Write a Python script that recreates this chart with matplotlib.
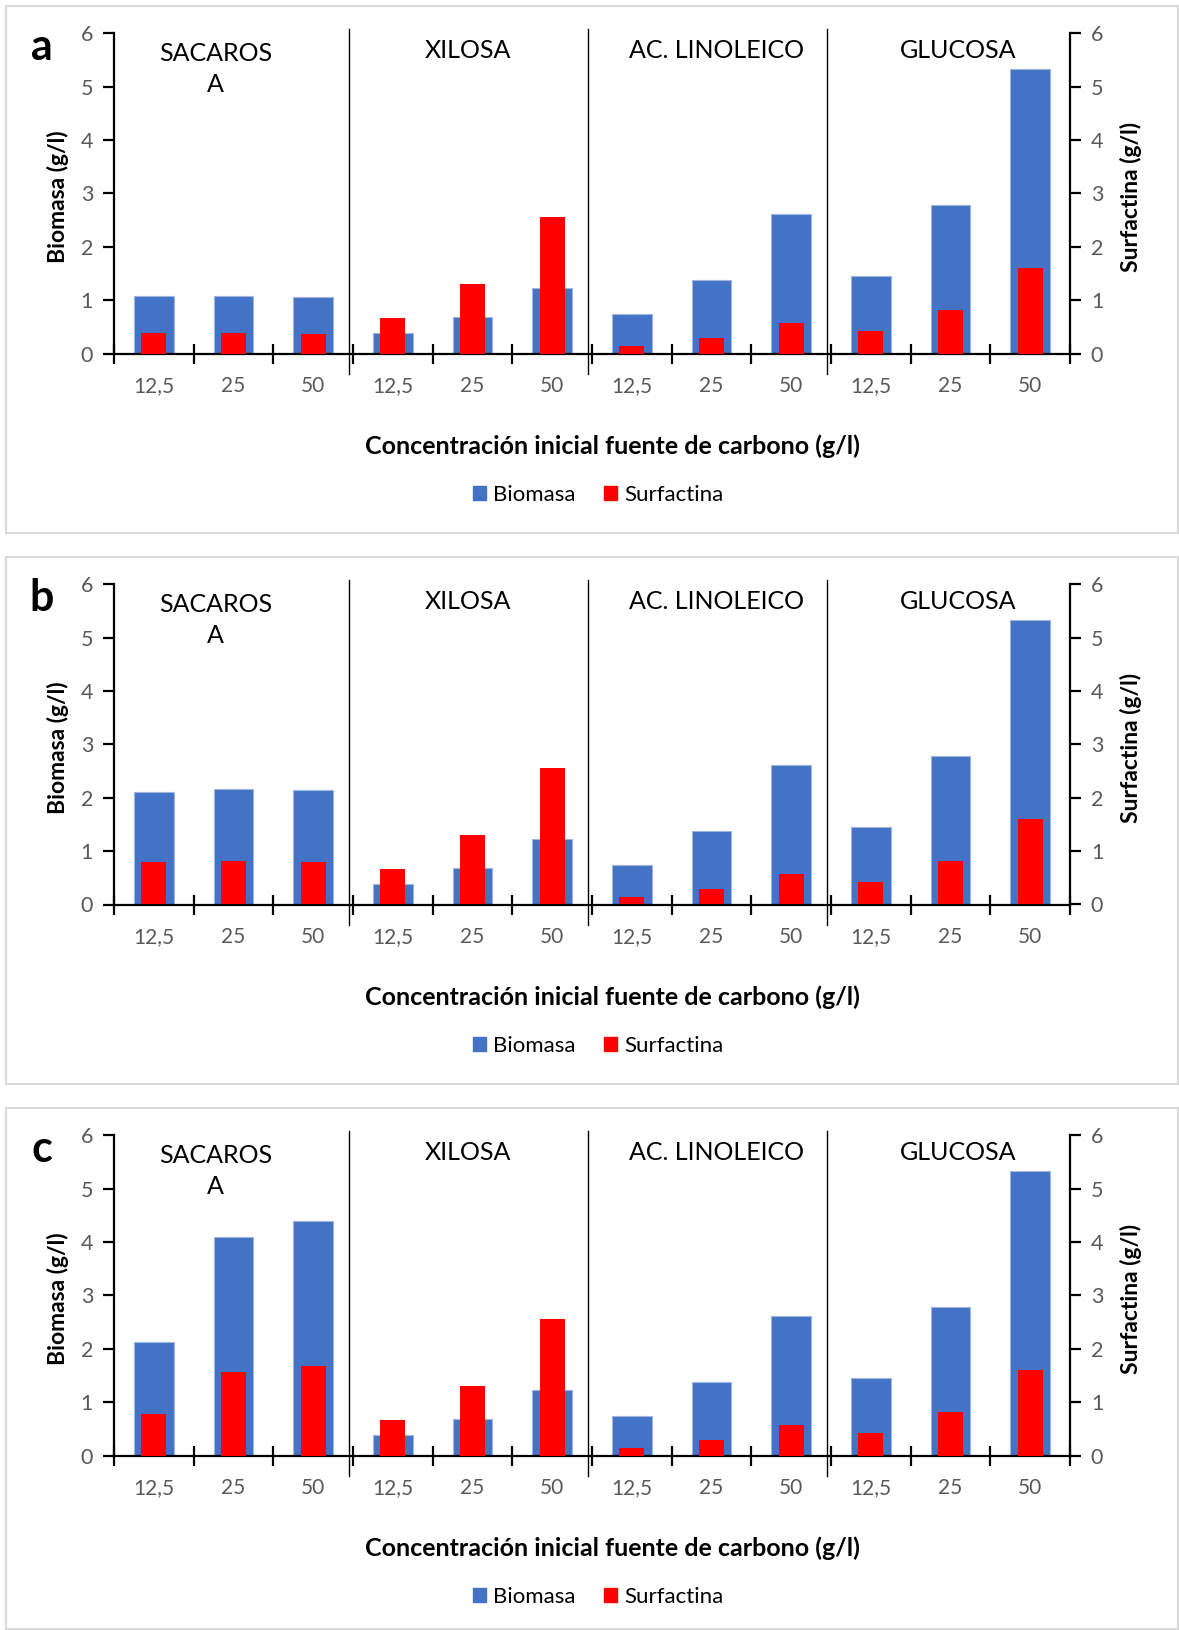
import numpy as np
import matplotlib
matplotlib.use("Agg")
import matplotlib.pyplot as plt
from matplotlib.patches import Rectangle, Patch

plt.rcParams['font.family'] = ['Lato', 'DejaVu Sans']

# data
conc_labels = ["12,5", "25", "50"] * 4
groups = ["SACAROS\nA", "XILOSA", "AC. LINOLEICO", "GLUCOSA"]
panel_tags = ["a", "b", "c"]

biomasa_a = [1.07, 1.07, 1.05, 0.39, 0.68, 1.22, 0.74, 1.38, 2.61, 1.45, 2.78, 5.34]
surfactina_a = [0.38, 0.38, 0.37, 0.66, 1.30, 2.55, 0.14, 0.29, 0.57, 0.42, 0.82, 1.61]

biomasa_b = [2.11, 2.17, 2.15, 0.39, 0.68, 1.22, 0.74, 1.38, 2.61, 1.45, 2.78, 5.34]
surfactina_b = [0.80, 0.82, 0.80, 0.66, 1.30, 2.55, 0.14, 0.29, 0.57, 0.42, 0.82, 1.61]

biomasa_c = [2.12, 4.10, 4.40, 0.39, 0.68, 1.22, 0.74, 1.38, 2.61, 1.45, 2.78, 5.34]
surfactina_c = [0.78, 1.57, 1.68, 0.66, 1.30, 2.55, 0.14, 0.29, 0.57, 0.42, 0.82, 1.61]

biomasa = [biomasa_a, biomasa_b, biomasa_c]
surfactina = [surfactina_a, surfactina_b, surfactina_c]

BLUE = "#4472C4"
RED = "#FF0000"
GRAY = "#595959"

W, H = 1179, 1630
fig = plt.figure(figsize=(W / 100, H / 100), dpi=100)

offsets = [0, 551, 1102]   # vertical shift of each panel in px
group_x = [0.1065, 0.3707, 0.630, 0.8826]

x = np.arange(len(conc_labels))

for p in range(3):
    off = offsets[p]
    # panel frame
    top = 6 + off
    bot = min(533 + off, H - 1)
    fig.add_artist(Rectangle((6 / W, 1 - bot / H), (W - 7) / W, (bot - top) / H,
                             transform=fig.transFigure, fill=False,
                             edgecolor="#D9D9D9", lw=1.5))

    ax_top = 33.3 + off
    ax_bot = 353.5 + off
    ax = fig.add_axes([114 / W, 1 - ax_bot / H, (1070 - 114) / W, (ax_bot - ax_top) / H])
    ax.set_facecolor("none")
    ax.bar(x, biomasa[p], width=0.5, color=BLUE, edgecolor="#9DB5E0", linewidth=0.8, zorder=2)
    ax.set_xlim(-0.5, 11.5)
    ax.set_ylim(0, 6)
    ax.set_yticks(range(7))

    ax2 = ax.twinx()
    ax2.bar(x, surfactina[p], width=0.31, color=RED, zorder=3)
    ax2.set_ylim(0, 6)
    ax2.set_yticks(range(7))

    for a in (ax, ax2):
        a.spines["top"].set_visible(False)
        for s in a.spines.values():
            s.set_linewidth(1.6)
            s.set_color("black")
        a.tick_params(axis="y", direction="out", length=8, width=1.6,
                      labelsize=15.5, labelcolor=GRAY, pad=7)
    ax.spines["right"].set_visible(False)
    ax2.spines["left"].set_visible(False)
    ax2.spines["bottom"].set_visible(False)

    ax.set_xticks(x)
    ax.set_xticklabels(conc_labels)
    ax.set_xticks(np.arange(-0.5, 12, 1), minor=True)
    ax.tick_params(axis="x", which="major", length=0, pad=16,
                   labelsize=15, labelcolor=GRAY)
    ax.tick_params(axis="x", which="minor", direction="inout", length=15, width=1.6)

    # separators between carbon sources
    for b in (2.5, 5.5, 8.5):
        ax.plot([b - 0.05, b - 0.05], [-0.38, 6.08], color="black", lw=1,
                clip_on=False, zorder=4)

    for gx, g in zip(group_x, groups):
        if "\n" in g:
            ax.text(gx, 0.888, g, transform=ax.transAxes, ha="center", va="center",
                    fontsize=18, linespacing=1.4)
        else:
            ax.text(gx, 0.945, g, transform=ax.transAxes, ha="center", va="center",
                    fontsize=18)

    fig.text(42 / W, 1 - (47 + off) / H, panel_tags[p], fontsize=31,
             fontweight="bold", ha="center", va="center")
    ymid = 1 - (197 + off) / H
    fig.text(58 / W, ymid, "Biomasa (g/l)", rotation=90, fontsize=16.5,
             fontweight="bold", ha="center", va="center")
    fig.text(1131 / W, ymid, "Surfactina (g/l)", rotation=90, fontsize=16.5,
             fontweight="bold", ha="center", va="center")
    fig.text(612 / W, 1 - (446 + off) / H,
             "Concentración inicial fuente de carbono (g/l)", fontsize=18,
             fontweight="bold", ha="center", va="center")

    handles = [Patch(color=BLUE, label="Biomasa"), Patch(color=RED, label="Surfactina")]
    fig.legend(handles=handles, loc="center", bbox_to_anchor=(598 / W, 1 - (495 + off) / H),
               ncol=2, frameon=False, fontsize=16, handlelength=0.6, handleheight=0.6,
               handletextpad=0.3, columnspacing=1.3, labelcolor="black")

fig.savefig("out.png", dpi=100)
